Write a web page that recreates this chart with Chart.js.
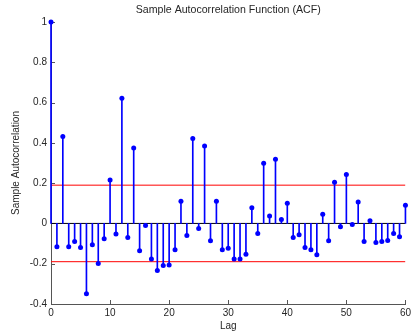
<!DOCTYPE html>
<html>
<head>
<meta charset="utf-8">
<script src="https://cdn.jsdelivr.net/npm/chart.js@4/dist/chart.umd.min.js"></script>
<style>
  html, body { margin: 0; padding: 0; background: #fff; }
  #wrap { width: 414px; height: 335px; }
</style>
</head>
<body>
<div id="wrap"><canvas id="acfChart" width="414" height="335"></canvas></div>
<script>
  /* ===============================
     DATA
  =============================== */
  const lags = [
     0,  1,  2,  3,  4,  5,  6,  7,  8,  9,
    10, 11, 12, 13, 14, 15, 16, 17, 18, 19,
    20, 21, 22, 23, 24, 25, 26, 27, 28, 29,
    30, 31, 32, 33, 34, 35, 36, 37, 38, 39,
    40, 41, 42, 43, 44, 45, 46, 47, 48, 49,
    50, 51, 52, 53, 54, 55, 56, 57, 58, 59, 60
  ];
  const acfValues = [
     1.000, -0.116,  0.432, -0.116, -0.090, -0.120, -0.349, -0.106, -0.199, -0.076,
     0.216, -0.053,  0.621, -0.070,  0.375, -0.136, -0.010, -0.176, -0.234, -0.209,
    -0.206, -0.131,  0.110, -0.060,  0.422, -0.025,  0.385, -0.086,  0.110, -0.131,
    -0.123, -0.176, -0.176, -0.153,  0.078, -0.050,  0.299,  0.037,  0.319,  0.020,
     0.100, -0.070, -0.056, -0.120, -0.131, -0.156,  0.045, -0.086,  0.204, -0.017,
     0.243, -0.005,  0.106, -0.090,  0.013, -0.095, -0.090, -0.085, -0.050, -0.066, 0.090
  ];
  const upperBound = 0.19;
  const lowerBound = -0.19;
  const xTicks = [0, 10, 20, 30, 40, 50, 60];
  const yTicks = [-0.4, -0.2, 0, 0.2, 0.4, 0.6, 0.8, 1];
  const chartTitle = 'Sample Autocorrelation Function (ACF)';

  const points = lags.map((l, i) => ({ x: l, y: acfValues[i] }));
  const firstLag = lags[0];
  const lastLag = lags[lags.length - 1];

  const FAMILY = '"Liberation Sans", Arial, sans-serif';
  const FONT = { family: FAMILY, size: 10 };
  const TEXT = '#262626';
  const AXIS = '#555555';

  // 1 -> "1", 0.8 -> "0.8" (no trailing zeros, like matlab)
  const fmt = v => String(+Number(v).toFixed(1));

  /* ===============================
     INWARD TICK MARKS (matlab style)
  =============================== */
  const inwardTicks = {
    id: 'inwardTicks',
    beforeDatasetsDraw(chart) {
      const { ctx, chartArea, scales } = chart;
      ctx.save();
      ctx.strokeStyle = AXIS;
      ctx.lineWidth = 1;
      ctx.beginPath();
      xTicks.forEach(v => {
        const px = Math.round(scales.x.getPixelForValue(v)) + 0.5;
        ctx.moveTo(px, chartArea.bottom);
        ctx.lineTo(px, chartArea.bottom - 4);
      });
      yTicks.forEach(v => {
        const py = Math.round(scales.y.getPixelForValue(v)) + 0.5;
        ctx.moveTo(chartArea.left, py);
        ctx.lineTo(chartArea.left + 4, py);
      });
      ctx.stroke();
      ctx.restore();
    }
  };

  /* ===============================
     TITLE centred over the plot box
  =============================== */
  const axesTitle = {
    id: 'axesTitle',
    afterDraw(chart) {
      const { ctx, chartArea } = chart;
      ctx.save();
      ctx.fillStyle = TEXT;
      ctx.font = '10.6px ' + FAMILY;
      ctx.textAlign = 'center';
      ctx.textBaseline = 'middle';
      ctx.fillText(chartTitle, (chartArea.left + chartArea.right) / 2, 10);
      ctx.restore();
    }
  };

  new Chart(document.getElementById('acfChart'), {
    data: {
      datasets: [
        {
          type: 'line',
          label: 'zero',
          data: [{ x: firstLag, y: 0 }, { x: lastLag, y: 0 }],
          borderColor: '#000000',
          borderWidth: 1,
          pointRadius: 0,
          order: 4
        },
        {
          type: 'line',
          label: 'upper',
          data: [{ x: firstLag, y: upperBound }, { x: lastLag, y: upperBound }],
          borderColor: '#ff0000',
          borderWidth: 1,
          pointRadius: 0,
          order: 3
        },
        {
          type: 'line',
          label: 'lower',
          data: [{ x: firstLag, y: lowerBound }, { x: lastLag, y: lowerBound }],
          borderColor: '#ff0000',
          borderWidth: 1,
          pointRadius: 0,
          order: 3
        },
        {
          type: 'bar',
          label: 'stems',
          data: points,
          backgroundColor: '#0000ff',
          borderWidth: 0,
          barThickness: 1,
          clip: false,
          order: 2
        },
        {
          type: 'scatter',
          label: 'ACF',
          data: points,
          backgroundColor: '#0000ff',
          borderColor: '#0000ff',
          pointRadius: 2.5,
          pointBorderWidth: 0,
          clip: false,
          order: 1
        }
      ]
    },
    options: {
      responsive: false,
      animation: false,
      layout: { padding: { left: 0, right: 7, top: 22, bottom: 0 } },
      plugins: {
        legend: { display: false },
        tooltip: { enabled: false },
        title: { display: false }
      },
      scales: {
        x: {
          type: 'linear',
          min: 0,
          max: 60,
          offset: false,
          afterBuildTicks: s => { s.ticks = xTicks.map(v => ({ value: v })); },
          afterFit: s => { s.height = 31; },
          ticks: { color: TEXT, font: FONT, padding: 3, maxRotation: 0, callback: fmt },
          grid: { display: false, drawTicks: false },
          border: { display: true, color: AXIS },
          title: {
            display: true,
            text: 'Lag',
            color: TEXT,
            font: FONT,
            padding: { top: 0, bottom: 3 }
          }
        },
        y: {
          type: 'linear',
          min: -0.4,
          max: 1,
          afterBuildTicks: s => { s.ticks = yTicks.map(v => ({ value: v })); },
          afterFit: s => { s.width = 51; },
          ticks: { color: TEXT, font: FONT, padding: 4, callback: fmt },
          grid: { display: false, drawTicks: false },
          border: { display: true, color: AXIS },
          title: {
            display: true,
            text: 'Sample Autocorrelation',
            color: TEXT,
            font: FONT,
            padding: { top: 10, bottom: 0 }
          }
        }
      }
    },
    plugins: [inwardTicks, axesTitle]
  });
</script>
</body>
</html>
